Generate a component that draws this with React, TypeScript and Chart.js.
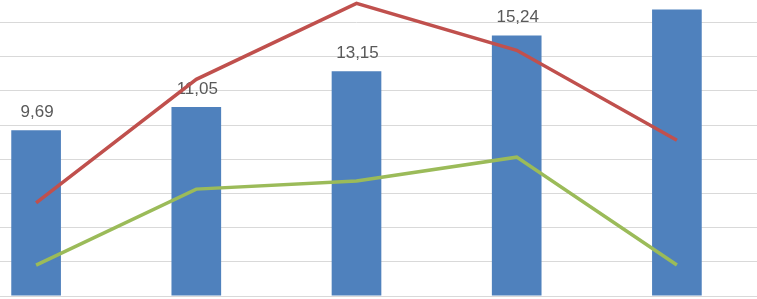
import React, { useEffect, useRef } from "react";
import { Chart, registerables } from "chart.js";

Chart.register(...registerables);

const categories = ["1", "2", "3", "4", "5"];
const barValues = [9.69, 11.05, 13.15, 15.24, 16.76];
const redValues = [5.45, 12.67, 17.11, 14.37, 9.11];
const greenValues = [1.81, 6.25, 6.72, 8.12, 1.81];

const labelPlugin = {
  id: "barLabels",
  afterDatasetDraw(chart: any, args: any) {
    if (args.index !== 0) return;
    const ctx = chart.ctx;
    const meta = chart.getDatasetMeta(0);
    ctx.save();
    ctx.font = "17px 'Liberation Sans', Arial, sans-serif";
    ctx.fillStyle = "#595959";
    ctx.textAlign = "center";
    ctx.textBaseline = "alphabetic";
    meta.data.forEach((el: any, i: number) => {
      const txt = barValues[i].toFixed(2).replace(".", ",");
      ctx.fillText(txt, el.x + 1, el.y - 13);
    });
    ctx.restore();
  },
};

export default function App() {
  const ref = useRef<HTMLCanvasElement>(null);
  useEffect(() => {
    if (!ref.current) return;
    const chart = new Chart(ref.current, {
      type: "bar",
      data: {
        labels: categories,
        datasets: [
          {
            type: "bar",
            data: barValues,
            backgroundColor: "#4F81BD",
            barPercentage: 0.62,
            categoryPercentage: 0.5,
            order: 3,
          },
          {
            type: "line",
            data: redValues,
            borderColor: "#C0504D",
            borderWidth: 3.5,
            pointRadius: 0,
            tension: 0,
            fill: false,
            order: 1,
          },
          {
            type: "line",
            data: greenValues,
            borderColor: "#9BBB59",
            borderWidth: 3.5,
            pointRadius: 0,
            tension: 0,
            fill: false,
            order: 2,
          },
        ] as any,
      },
      options: {
        responsive: false,
        animation: false,
        layout: { padding: { left: 0, right: 0, top: 0, bottom: 3 } },
        plugins: { legend: { display: false }, tooltip: { enabled: false } },
        scales: {
          x: {
            ticks: { display: false },
            grid: { display: false, drawTicks: false },
            border: { display: true, color: "#D9D9D9", width: 1 },
          },
          y: {
            min: 0,
            max: 20,
            ticks: { display: false, stepSize: 2 },
            grid: { color: "#D9D9D9", drawTicks: false, lineWidth: 1 },
            border: { display: false },
          },
        },
      } as any,
      plugins: [labelPlugin],
    });
    return () => chart.destroy();
  }, []);
  return (
    <div
      style={{
        position: "fixed",
        left: 0,
        top: 0,
        width: 757,
        height: 299,
        overflow: "hidden",
        background: "#fff",
      }}
    >
      <canvas
        ref={ref}
        width={801}
        height={345}
        style={{ position: "absolute", left: -44, top: -46 }}
      />
    </div>
  );
}
